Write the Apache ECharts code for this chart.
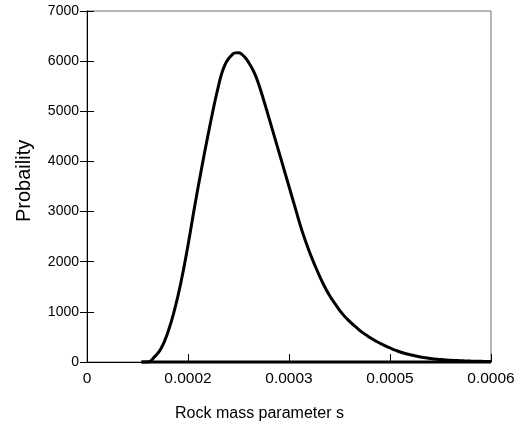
<!DOCTYPE html>
<html>
<head>
<meta charset="utf-8">
<script src="https://cdn.jsdelivr.net/npm/echarts@6/dist/echarts.min.js"></script>
<style>html,body{margin:0;padding:0;background:#fff;}#c{width:522px;height:434px;}</style>
</head>
<body>
<div id="c"></div>
<script>
var xTickLabels = ['0', '0.0002', '0.0003', '0.0005', '0.0006'];
var yTickLabels = ['0', '1000', '2000', '3000', '4000', '5000', '6000', '7000'];
var curveX = [0.0000808, 0.00009, 0.00010, 0.00011, 0.00012, 0.00013, 0.00014, 0.00015, 0.00016, 0.00017, 0.00018, 0.00019, 0.000195, 0.00020, 0.000205, 0.00021, 0.000215, 0.00022, 0.000225, 0.00023, 0.000235, 0.00024, 0.000245, 0.00025, 0.000255, 0.00026, 0.00027, 0.00028, 0.00029, 0.00030, 0.00031, 0.00032, 0.00033, 0.00034, 0.00035, 0.00036, 0.00037, 0.00038, 0.00039, 0.00040, 0.00041, 0.00042, 0.00043, 0.00044, 0.00045, 0.00046, 0.00047, 0.00048, 0.00049, 0.00050, 0.00051, 0.00052, 0.00053, 0.00054, 0.00055, 0.00056, 0.00057, 0.00058, 0.00059, 0.00060];
var curveY = [0, 0, 100, 270, 590, 1040, 1620, 2330, 3110, 3850, 4544, 5199, 5490, 5750, 5930, 6045, 6120, 6165, 6168, 6135, 6070, 5975, 5860, 5720, 5540, 5330, 4880, 4420, 3960, 3500, 3040, 2590, 2210, 1880, 1580, 1330, 1130, 950, 810, 690, 580, 490, 410, 340, 280, 225, 180, 145, 115, 90, 70, 55, 45, 36, 30, 24, 19, 15, 12, 10];
var baseX = [0.0000808, 0.0006];
var baseY = [0, 0];
var xName = 'Rock mass parameter s';
var yName = 'Probaility';

var font = '"Liberation Sans", Arial, Helvetica, sans-serif';
var chart = echarts.init(document.getElementById('c'), null, {renderer: 'canvas'});
var curve = curveX.map(function (x, i) { return [x, curveY[i]]; });
var base = baseX.map(function (x, i) { return [x, baseY[i]]; });

chart.setOption({
  animation: false,
  backgroundColor: '#fff',
  grid: {left: 87, right: 31, top: 11, bottom: 72, show: true, borderColor: '#6e6e6e', borderWidth: 1, backgroundColor: 'transparent'},
  xAxis: {
    type: 'value', min: 0, max: 0.0006, interval: 0.00015,
    axisLine: {show: true, onZero: false, lineStyle: {color: '#000', width: 1}},
    axisTick: {show: true, inside: true, length: 8, lineStyle: {color: '#000'}},
    axisLabel: {
      color: '#000', fontFamily: font, fontSize: 15.5, margin: 9,
      formatter: function (v) { return xTickLabels[Math.round(v / 0.00015)]; }
    },
    splitLine: {show: false}
  },
  yAxis: [{
    type: 'value', min: 0, max: 7000, interval: 1000,
    axisLine: {show: true, lineStyle: {color: '#000', width: 1}},
    axisTick: {show: true, inside: false, length: 7, lineStyle: {color: '#000'}},
    axisLabel: {
      color: '#000', fontFamily: font, fontSize: 14, margin: 8,
      formatter: function (v) { return yTickLabels[Math.round(v / 1000)]; }
    },
    splitLine: {show: false}
  }, {
    type: 'value', min: 0, max: 7000, interval: 1000, position: 'left',
    axisLine: {show: false},
    axisTick: {show: true, inside: true, length: 7, lineStyle: {color: '#000'}},
    axisLabel: {show: false},
    splitLine: {show: false}
  }],
  graphic: [{
    type: 'text', left: 175, top: 406,
    style: {text: xName, fill: '#000', font: '16px ' + font}
  }, {
    type: 'text', x: 14, y: 222, rotation: Math.PI / 2,
    style: {text: yName, fill: '#000', font: '20px ' + font}
  }],
  series: [{
    type: 'line', data: base, symbol: 'none', clip: false, silent: true,
    lineStyle: {color: '#000', width: 3}
  }, {
    type: 'line', data: curve, symbol: 'none', smooth: 0.5, clip: false, silent: true,
    lineStyle: {color: '#000', width: 3}
  }]
});
</script>
</body>
</html>
